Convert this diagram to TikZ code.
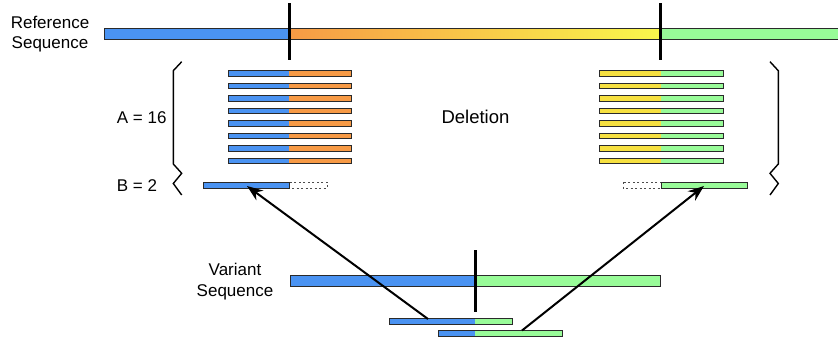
\documentclass[tikz,border=0pt]{standalone}
\usepackage{fontspec}
\setmainfont{Liberation Sans}
\usetikzlibrary{arrows.meta}
\definecolor{sblue}{HTML}{4A93F2}
\definecolor{sorange}{HTML}{F79A45}
\definecolor{syellow}{HTML}{F9F84C}
\definecolor{ryellow}{HTML}{F6E040}
\definecolor{sgreen}{HTML}{98FB98}
\definecolor{sborder}{HTML}{2A2A2A}
\begin{document}
\begin{tikzpicture}[x=1pt,y=-1pt,
  font=\fontsize{17}{20}\selectfont,
  lbl/.style={inner sep=0pt, anchor=base},
  outline/.style={draw=sborder, line width=1pt},
  dotbox/.style={draw=black!70, line width=0.8pt, dash pattern=on 2pt off 2.5pt, fill=white},
  brk/.style={line width=3pt, black},
  brace/.style={line width=1.4pt, black, line join=miter},
  arr/.style={line width=2pt, -{Stealth[length=16pt,width=12pt]}}]
\useasboundingbox (0,0) rectangle (838,341);

% reference sequence
\fill[sblue] (104,28) rectangle (289,39);
\shade[left color=sorange, right color=syellow] (289,28) rectangle (660,39);
\fill[sgreen] (660,28) rectangle (842,39);
\draw[outline] (104,28) rectangle (842,39);
\draw[brk] (289,3) -- (289,60);
\draw[brk] (660,3) -- (660,60);
\node[lbl] (refA) at (50,28.3) {Reference};
\node[lbl] (refB) at (50,48.3) {Sequence};

% A reads
\foreach \i in {0,...,7}{
  \pgfmathsetmacro{\ya}{70.7+12.5*\i}
  \pgfmathsetmacro{\yb}{\ya+5.6}
  \fill[sblue] (228,\ya) rectangle (289,\yb);
  \fill[sorange] (289,\ya) rectangle (351,\yb);
  \draw[outline] (228,\ya) rectangle (351,\yb);
  \fill[ryellow] (599,\ya) rectangle (661,\yb);
  \fill[sgreen] (661,\ya) rectangle (723,\yb);
  \draw[outline] (599,\ya) rectangle (723,\yb);
}

% B reads
\draw[dotbox] (289,182) rectangle (327,188);
\fill[sblue] (203,182) rectangle (289,188);
\draw[outline] (203,182) rectangle (289,188);
\draw[dotbox] (623,182) rectangle (661,188);
\fill[sgreen] (661,182) rectangle (747,188);
\draw[outline] (661,182) rectangle (747,188);
\coordinate (tipL) at (247,186);
\coordinate (tipR) at (704,186);

% braces
\draw[brace] (181.7,61.7) -- (173.3,70.7) -- (173.3,164) -- (181.7,173.3) -- (173.3,183.5) -- (181.7,195);
\draw[brace] (770,61.7) -- (778.3,70.7) -- (778.3,164) -- (770,173.3) -- (778.3,183.5) -- (770,195);
\node[lbl, anchor=base west] (acount) at (116.7,123.3) {A = 16};
\node[lbl, anchor=base west] (bcount) at (116.7,191.7) {B = 2};
\node[lbl, font=\fontsize{18.5}{20}\selectfont] (del) at (475.5,123.3) {Deletion};

% variant sequence
\fill[sblue] (290,275.7) rectangle (475,286.7);
\fill[sgreen] (475,275.7) rectangle (660,286.7);
\draw[outline] (290,275.7) rectangle (660,286.7);
\node[lbl] (varA) at (235,275) {Variant};
\node[lbl] (varB) at (235,296.7) {Sequence};

% variant reads
\fill[sblue] (389,318) rectangle (475,324);
\fill[sgreen] (475,318) rectangle (512,324);
\draw[outline] (389,318) rectangle (512,324);
\fill[sblue] (438,330) rectangle (475,336);
\fill[sgreen] (475,330) rectangle (562,336);
\draw[outline] (438,330) rectangle (562,336);
\draw[brk] (475,250) -- (475,311.7);
\coordinate (srcL) at (428,319);
\coordinate (srcR) at (522,330.5);

\draw[arr] (srcL) -- (tipL);
\draw[arr] (srcR) -- (tipR);
\end{tikzpicture}
\end{document}
